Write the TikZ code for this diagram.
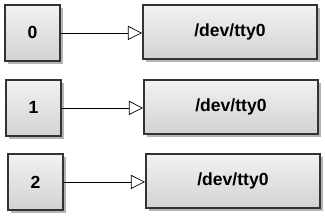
\documentclass[tikz,border=0pt]{standalone}
\usepackage{fontspec}
\setmainfont{Liberation Sans}
\usetikzlibrary{arrows.meta,shadows}
\definecolor{boxline}{HTML}{333333}
\definecolor{boxtop}{HTML}{F2F2F2}
\definecolor{boxbot}{HTML}{D2D2D2}
\definecolor{shadowgrey}{HTML}{B4B4B4}
\tikzset{every node/.style={font=\fontsize{15}{18}\selectfont\bfseries},
  devbox/.style={draw=boxline,line width=1.6pt,top color=boxtop,bottom color=boxbot,
    anchor=north west,inner sep=0pt,
    drop shadow={shadow xshift=1mm,shadow yshift=-1mm,fill=shadowgrey,opacity=1}},
  fdbox/.style={devbox,minimum width=16.5mm,minimum height=16.8mm},
  ttybox/.style={devbox,minimum width=52.2mm,minimum height=16.2mm}}

\begin{document}
\begin{tikzpicture}[x=0.3mm,y=-0.3mm,
    lnk/.style={draw=black,line width=0.6pt},
    arr/.style={lnk,-{Triangle[open,length=4.2mm,width=4.2mm,line width=0.6pt]}}]
  \path[use as bounding box] (0,0) rectangle (325,218);

  % File descriptors and the terminal they point to
  \foreach \i/\yt/\dx in {0/4/0,1/79/1,2/153/3}{
    \node[fdbox] (fd\i) at (4+\dx,\yt) {\i};
    \node[ttybox] (tty\i) at (142+\dx,\yt) {/dev/tty0};
    \draw[arr] (fd\i.east) -- (fd\i.east -| tty\i.west);
  }
\end{tikzpicture}
\end{document}
